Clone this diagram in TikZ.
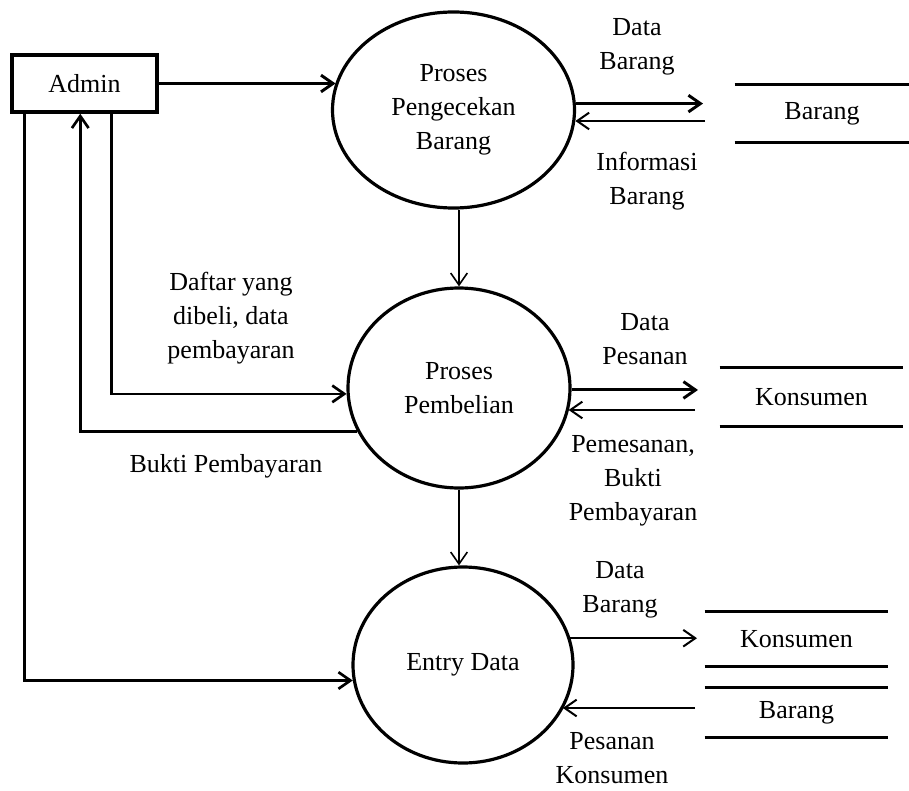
\documentclass[tikz,border=0pt]{standalone}
\usepackage{fontspec}
\setmainfont{Liberation Serif}
\usetikzlibrary{arrows.meta, shapes.geometric}
\tikzset{
  base_n/.style = {align=center, inner sep=0pt,
    font=\fontsize{19.5}{25.5}\selectfont},
  proc_n/.style = {base_n, ellipse, draw=black, line width=2.4pt},
  ent_n/.style = {base_n, rectangle, draw=black, line width=2.6pt,
    minimum width=108.75pt, minimum height=42.75pt},
  store_n/.style = {base_n, rectangle, minimum height=42.75pt},
  lbl_n/.style = {base_n},
  thk/.style = {line width=2.2pt},
  thn/.style = {line width=1.5pt}}

\begin{document}
\begin{tikzpicture}[x=0.75pt, y=-0.75pt, ->,
  >={Straight Barb[length=9pt,width=12.5pt]}]
 \useasboundingbox (0,0) rectangle (909,791);

% entitas dan proses
\node [ent_n] (admin) at (84.5,83.5) {Admin};
\node [proc_n, minimum width=181.5pt, minimum height=147pt] (cek) at (453.5,110) {Proses\\Pengecekan\\Barang};
\node [proc_n, minimum width=166.5pt, minimum height=150pt] (beli) at (459,388) {Proses\\Pembelian};
\node [proc_n, minimum width=165pt, minimum height=147pt] (entry) at (463,665) {Entry Data};

% data store
\node [store_n, minimum width=130.5pt] (sbar) at (822,113.5) {Barang};
\node [store_n, minimum width=137.25pt, minimum height=43.5pt] (skon) at (811.5,397) {Konsumen};
\node [store_n, minimum width=137.25pt, minimum height=40.5pt] (skon2) at (796.5,639) {Konsumen};
\node [store_n, minimum width=137.25pt, minimum height=36.75pt] (sbar2) at (796.5,712.5) {Barang};
\foreach \s in {sbar, skon, skon2, sbar2}
  \draw [-, thk] (\s.north west) -- (\s.north east) (\s.south west) -- (\s.south east);

\coordinate (bOut) at (703,103);
\coordinate (bIn) at (705,121);
\coordinate (kOut) at (698,390);
\coordinate (kIn) at (695,410);
\coordinate (dOut) at (697,638);
\coordinate (dIn) at (695,708);

% aliran data
\draw [thk] (admin.east) -- (admin.east -| cek.167);
\draw [thk] (cek.3) -- (cek.3 -| bOut);
\draw [thn] (bIn) -- (bIn -| cek.355);
\draw [line width=1.2pt] (beli.north |- cek.south) -- (beli.north);
\draw [thk] (beli.359) -- (beli.359 -| kOut);
\draw [thn] (kIn) -- (kIn -| beli.348);
\draw [line width=1.2pt] (beli.south) -- (beli.south |- entry.north);
\draw [thn] (entry.14) -- (entry.14 -| dOut);
\draw [thn] (dIn) -- (dIn -| entry.336);
\draw [line width=2pt] ([xshift=10.5pt]admin.south west) |- (entry.188);
\draw [line width=2pt] ([xshift=75.75pt]admin.south west) |- (beli.183);
\draw [line width=2pt] (beli.203) -| ([xshift=52.5pt]admin.south west);

% label
\node [lbl_n] (lDataBar) at (637,47) {Data\\Barang};
\node [lbl_n] (lInfo) at (647,181) {Informasi\\Barang};
\node [lbl_n] (lDataPes) at (645,339) {Data\\Pesanan};
\node [lbl_n] (lPemesan) at (633,481) {Pemesanan,\\Bukti\\Pembayaran};
\node [lbl_n] (lDataBar2) at (620,590) {Data\\Barang};
\node [lbl_n] (lPesKon) at (612,758) {Pesanan\\Konsumen};
\node [lbl_n] (lDaftar) at (231,318) {Daftar yang\\dibeli, data\\pembayaran};
\node [lbl_n] (lBukti) at (226,466) {Bukti Pembayaran};
\end{tikzpicture}
\end{document}
